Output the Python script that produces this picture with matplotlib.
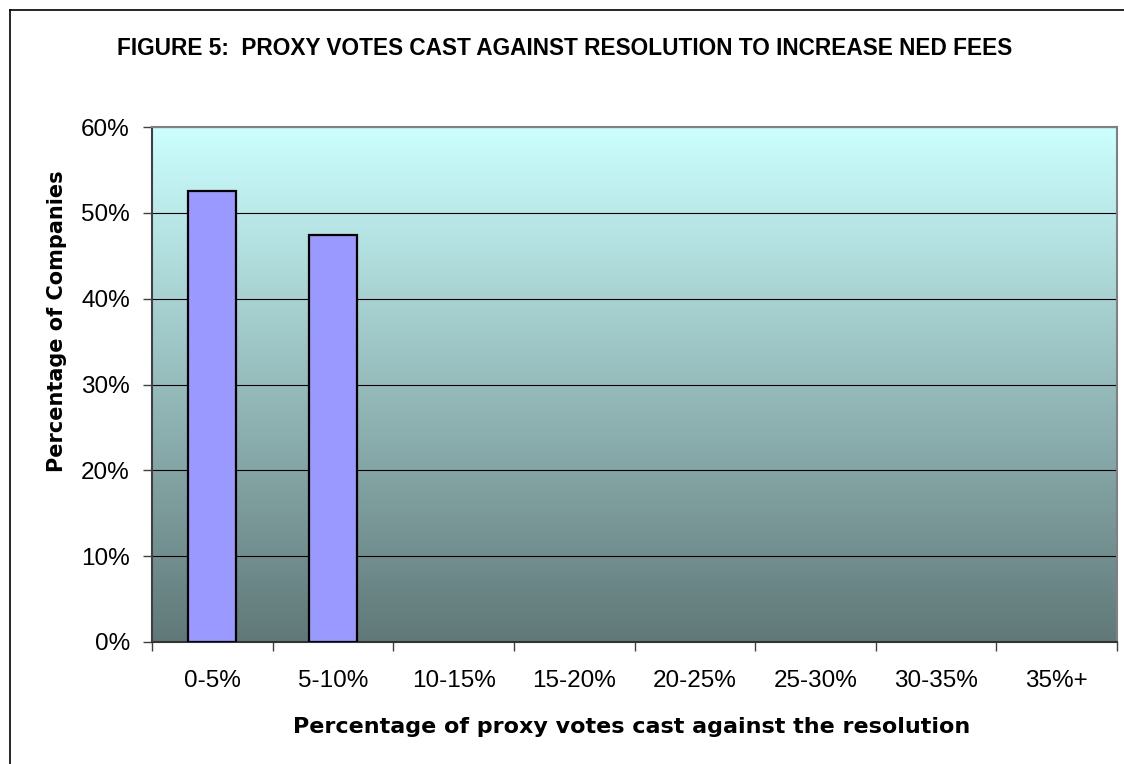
import numpy as np
import matplotlib.pyplot as plt

# data
categories = ["0-5%", "5-10%", "10-15%", "15-20%", "20-25%", "25-30%", "30-35%", "35%+"]
companies_pct = [52.6, 47.4, 0, 0, 0, 0, 0, 0]
yticks = [0, 10, 20, 30, 40, 50, 60]

plt.rcParams['font.family'] = ['Liberation Sans', 'DejaVu Sans']

W, H = 1124, 764
fig = plt.figure(figsize=(W / 100, H / 100), dpi=100)
ax = fig.add_axes([152 / W, 122 / H, 965 / W, 515 / H])

# background gradient (light cyan at top -> dark slate at bottom)
top = np.array([204, 255, 255]) / 255
bot = np.array([96, 120, 120]) / 255
t = np.linspace(0, 1, 256)[:, None]
grad = bot + (top - bot) * t
grad = np.repeat(grad[:, None, :], 2, axis=1)
ax.imshow(grad, extent=[-0.5, len(categories) - 0.5, 0, 60], origin='lower',
          aspect='auto', zorder=0, interpolation='bilinear')

x = np.arange(len(categories))
# empty categories get no outline (excel draws nothing there)
edge_w = [1.6 if v > 0 else 0 for v in companies_pct]
ax.bar(x, companies_pct, width=0.4, color='#9999FF', edgecolor='black',
       linewidth=edge_w, zorder=3)

ax.set_xlim(-0.5, len(categories) - 0.5)
ax.set_ylim(0, 60)
ax.set_yticks(yticks)
ax.set_yticklabels([f"{v}%" for v in yticks], fontsize=17.5)
ax.yaxis.grid(True, color='black', linewidth=0.8, zorder=1)

ax.set_xticks(x)
ax.set_xticklabels(categories, fontsize=17.5)
ax.tick_params(axis='x', length=0, pad=20.5)
ax.set_xticks(np.arange(len(categories) + 1) - 0.5, minor=True)
ax.tick_params(axis='x', which='minor', length=6.5, width=1, color='#404040', direction='out')
ax.tick_params(axis='y', length=6.5, width=1, color='#404040', direction='out', pad=9.5)

for s in ax.spines.values():
    s.set_color('#808080')
    s.set_linewidth(1.5)
ax.spines['left'].set_color('#404040')
ax.spines['bottom'].set_color('#333333')

ax.set_xlabel("Percentage of proxy votes cast against the resolution",
              fontsize=16, fontweight='bold', family='DejaVu Sans')
ax.xaxis.set_label_coords(0.497, -0.145)
ax.set_ylabel("Percentage of Companies", fontsize=15, fontweight='bold', family='DejaVu Sans')
ax.yaxis.set_label_coords(-0.088, 0.623)

fig.text(565 / W, 1 - 55 / H,
         "FIGURE 5:  PROXY VOTES CAST AGAINST RESOLUTION TO INCREASE NED FEES",
         ha='center', va='baseline', fontsize=16.3, fontweight='bold')

# outer frame (only top and left edges visible in the original crop)
fig.add_artist(plt.Line2D([10 / W, 1.01], [1 - 10 / H, 1 - 10 / H],
                          transform=fig.transFigure, color='black', linewidth=1.2))
fig.add_artist(plt.Line2D([10 / W, 10 / W], [-0.01, 1 - 10 / H],
                          transform=fig.transFigure, color='black', linewidth=1.2))

fig.savefig("out.png", dpi=100, facecolor='white')
